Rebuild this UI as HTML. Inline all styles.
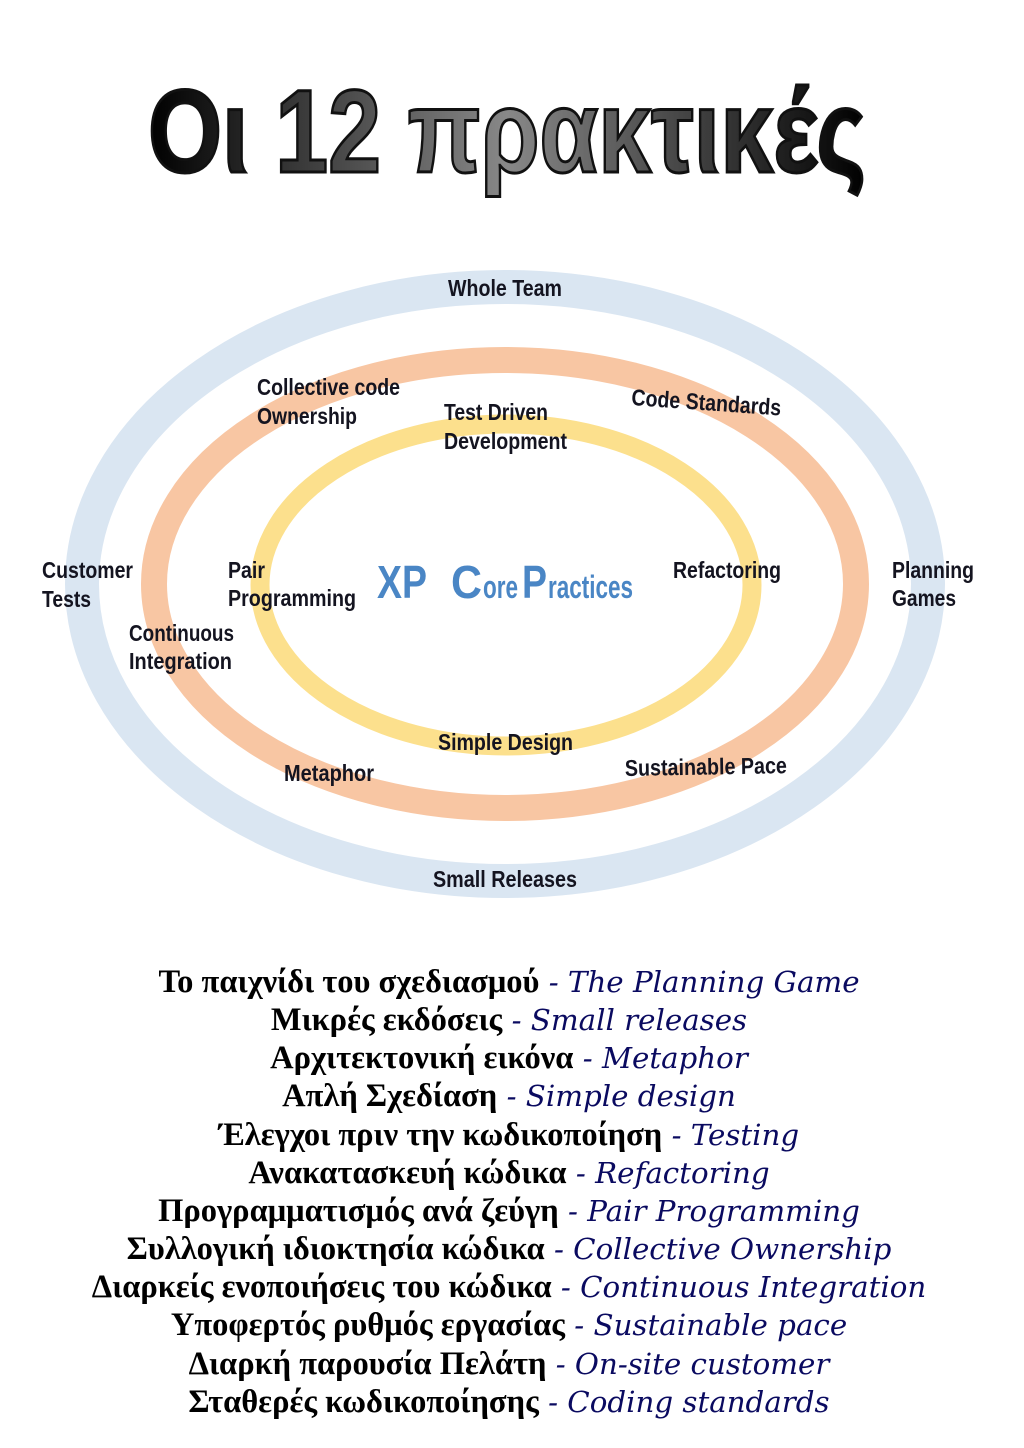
<!DOCTYPE html>
<html><head><meta charset="utf-8"><style>
html,body{margin:0;padding:0;background:#fff;width:1024px;height:1448px;overflow:hidden}
svg{display:block}
.l{font-family:"Liberation Sans Narrow","Liberation Sans",sans-serif;font-weight:bold;font-size:23px;fill:#141420}
.b{font-family:"Liberation Serif","Noto Serif CJK SC",serif;font-weight:bold;font-size:32.5px;fill:#000}
.i{font-family:"DejaVu Serif",serif;font-style:italic;font-size:29.3px;fill:#0a0a60}
</style></head><body>
<svg width="1024" height="1448" viewBox="0 0 1024 1448" xmlns="http://www.w3.org/2000/svg">
<defs>
<linearGradient id="g" x1="0" x2="1" y1="0" y2="0">
<stop offset="0" stop-color="#000"/><stop offset="0.5" stop-color="#888"/><stop offset="1" stop-color="#000"/>
</linearGradient>
</defs>
<text x="148" y="172" font-family="Liberation Sans,sans-serif" font-weight="bold" font-size="118" fill="url(#g)" stroke="#111" stroke-width="3" textLength="718" lengthAdjust="spacingAndGlyphs">Οι 12 πρακτικές</text>

<ellipse cx="505" cy="584" rx="423" ry="297" fill="none" stroke="#dae6f2" stroke-width="34"/>
<ellipse cx="505" cy="584" rx="351" ry="224" fill="none" stroke="#f8c6a3" stroke-width="26"/>
<ellipse cx="506" cy="585" rx="246" ry="161" fill="none" stroke="#fce08d" stroke-width="19"/>

<text class="l" x="448" y="296" textLength="114" lengthAdjust="spacingAndGlyphs">Whole Team</text>
<text class="l" x="257" y="395" textLength="143" lengthAdjust="spacingAndGlyphs">Collective code</text>
<text class="l" x="257" y="424" textLength="100" lengthAdjust="spacingAndGlyphs">Ownership</text>
<text class="l" x="444" y="420" textLength="104" lengthAdjust="spacingAndGlyphs">Test Driven</text>
<text class="l" x="444" y="449" textLength="123" lengthAdjust="spacingAndGlyphs">Development</text>
<text class="l" x="631" y="405" textLength="150" lengthAdjust="spacingAndGlyphs" transform="rotate(4 631 405)">Code Standards</text>
<text class="l" x="42" y="578" textLength="91" lengthAdjust="spacingAndGlyphs">Customer</text>
<text class="l" x="42" y="607" textLength="49" lengthAdjust="spacingAndGlyphs">Tests</text>
<text class="l" x="228" y="578" textLength="37" lengthAdjust="spacingAndGlyphs">Pair</text>
<text class="l" x="228" y="606" textLength="128" lengthAdjust="spacingAndGlyphs">Programming</text>
<text class="l" x="129" y="641" textLength="105" lengthAdjust="spacingAndGlyphs">Continuous</text>
<text class="l" x="129" y="669" textLength="103" lengthAdjust="spacingAndGlyphs">Integration</text>
<text class="l" x="673" y="578" textLength="108" lengthAdjust="spacingAndGlyphs">Refactoring</text>
<text class="l" x="892" y="578" textLength="82" lengthAdjust="spacingAndGlyphs">Planning</text>
<text class="l" x="892" y="606" textLength="64" lengthAdjust="spacingAndGlyphs">Games</text>
<text class="l" x="438" y="750" textLength="135" lengthAdjust="spacingAndGlyphs">Simple Design</text>
<text class="l" x="284" y="781" textLength="90" lengthAdjust="spacingAndGlyphs">Metaphor</text>
<text class="l" x="625" y="776" textLength="162" lengthAdjust="spacingAndGlyphs" transform="rotate(-1 625 776)">Sustainable Pace</text>
<text class="l" x="433" y="887" textLength="144" lengthAdjust="spacingAndGlyphs">Small Releases</text>

<g font-family="Liberation Sans Narrow,Liberation Sans,sans-serif" font-weight="bold" fill="#4a86c5">
<text x="377" y="598" font-size="46" textLength="50" lengthAdjust="spacingAndGlyphs">XP</text>
<text x="451" y="598" font-size="46" textLength="31" lengthAdjust="spacingAndGlyphs">C</text>
<text x="483" y="598" font-size="32" textLength="35" lengthAdjust="spacingAndGlyphs">ore</text>
<text x="522" y="598" font-size="46" textLength="25" lengthAdjust="spacingAndGlyphs">P</text>
<text x="548" y="598" font-size="32" textLength="85" lengthAdjust="spacingAndGlyphs">ractices</text>
</g>

<g text-anchor="middle">
<text x="509" y="992"><tspan class="b">Το παιχνίδι του σχεδιασμού</tspan><tspan class="i"> - The Planning Game</tspan></text>
<text x="509" y="1030"><tspan class="b">Μικρές εκδόσεις</tspan><tspan class="i"> - Small releases</tspan></text>
<text x="509" y="1068"><tspan class="b">Αρχιτεκτονική εικόνα</tspan><tspan class="i"> - Metaphor</tspan></text>
<text x="509" y="1106"><tspan class="b">Απλή Σχεδίαση</tspan><tspan class="i"> - Simple design</tspan></text>
<text x="509" y="1145"><tspan class="b">Έλεγχοι πριν την κωδικοποίηση</tspan><tspan class="i"> - Testing</tspan></text>
<text x="509" y="1183"><tspan class="b">Ανακατασκευή κώδικα</tspan><tspan class="i"> - Refactoring</tspan></text>
<text x="509" y="1221"><tspan class="b">Προγραμματισμός ανά ζεύγη</tspan><tspan class="i"> - Pair Programming</tspan></text>
<text x="509" y="1259"><tspan class="b">Συλλογική ιδιοκτησία κώδικα</tspan><tspan class="i"> - Collective Ownership</tspan></text>
<text x="509" y="1297"><tspan class="b">Διαρκείς ενοποιήσεις του κώδικα</tspan><tspan class="i"> - Continuous Integration</tspan></text>
<text x="509" y="1335"><tspan class="b">Υποφερτός ρυθμός εργασίας</tspan><tspan class="i"> - Sustainable pace</tspan></text>
<text x="509" y="1374"><tspan class="b">Διαρκή παρουσία Πελάτη</tspan><tspan class="i"> - On-site customer</tspan></text>
<text x="509" y="1412"><tspan class="b">Σταθερές κωδικοποίησης</tspan><tspan class="i"> - Coding standards</tspan></text>
</g>
</svg>
</body></html>
